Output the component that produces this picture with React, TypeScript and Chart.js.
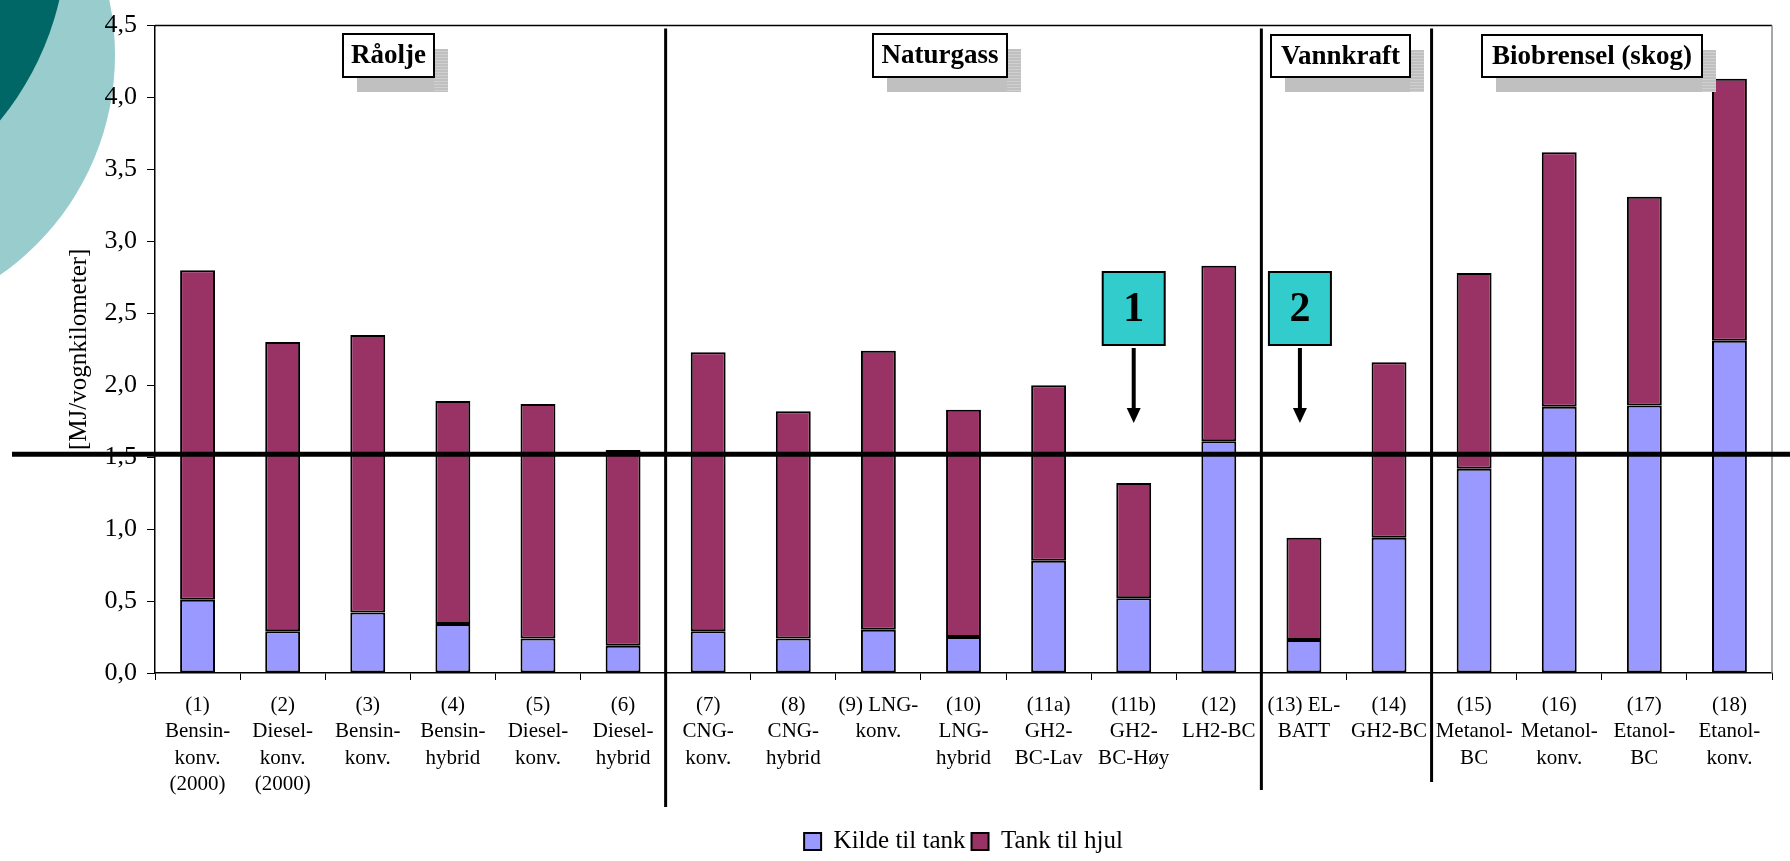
import React, { useEffect, useRef } from "react";
import { Chart, registerables } from "chart.js";

Chart.register(...registerables);

const FONT = "'Liberation Serif', 'Times New Roman', serif";

// Categories (multi-line tick labels as in the source)
const categories: string[][] = [
  ["(1)", "Bensin-", "konv.", "(2000)"],
  ["(2)", "Diesel-", "konv.", "(2000)"],
  ["(3)", "Bensin-", "konv."],
  ["(4)", "Bensin-", "hybrid"],
  ["(5)", "Diesel-", "konv."],
  ["(6)", "Diesel-", "hybrid"],
  ["(7)", "CNG-", "konv."],
  ["(8)", "CNG-", "hybrid"],
  ["(9) LNG-", "konv."],
  ["(10)", "LNG-", "hybrid"],
  ["(11a)", "GH2-", "BC-Lav"],
  ["(11b)", "GH2-", "BC-Høy"],
  ["(12)", "LH2-BC"],
  ["(13) EL-", "BATT"],
  ["(14)", "GH2-BC"],
  ["(15)", "Metanol-", "BC"],
  ["(16)", "Metanol-", "konv."],
  ["(17)", "Etanol-", "BC"],
  ["(18)", "Etanol-", "konv."],
];

// Series values [MJ/vognkilometer]
const kildeTilTank = [0.51, 0.29, 0.42, 0.34, 0.24, 0.19, 0.29, 0.24, 0.30, 0.25, 0.78, 0.52, 1.61, 0.23, 0.94, 1.42, 1.85, 1.86, 2.31];
const tankTilHjul = [2.29, 2.01, 1.93, 1.55, 1.63, 1.36, 1.94, 1.58, 1.94, 1.58, 1.22, 0.80, 1.22, 0.71, 1.22, 1.36, 1.77, 1.45, 1.82];

const seriesNames = ["Kilde til tank", "Tank til hjul"];
const yAxisTitle = "[MJ/vognkilometer]";

// Group annotations
const groupNames = ["Råolje", "Naturgass", "Vannkraft", "Biobrensel (skog)"];
const groupStartIndex = [6, 13, 15]; // separators before these categories
const markerLabels = ["1", "2"];
const markerCategory = [11, 13];
const referenceValue = 1.52;

// Layout of the annotation boxes (pixels)
const groupBoxes = [
  { x: 343, y: 34, w: 91, h: 43 },
  { x: 873, y: 34, w: 134, h: 43 },
  { x: 1271, y: 35, w: 139, h: 42 },
  { x: 1482, y: 35, w: 220, h: 42 },
];
const separatorBottoms = [807, 790, 782];
const markerDx = [0, -4];

const decorPlugin = {
  id: "decor",
  beforeDraw(chart: any) {
    const ctx = chart.ctx;
    ctx.save();
    ctx.fillStyle = "#99CCCC";
    ctx.beginPath();
    ctx.arc(-153, 55, 268, 0, Math.PI * 2);
    ctx.fill();
    ctx.fillStyle = "#006666";
    ctx.beginPath();
    ctx.arc(-229, -67, 296, 0, Math.PI * 2);
    ctx.fill();
    ctx.restore();
  },
  afterDraw(chart: any) {
    const { ctx, chartArea } = chart;
    const x = chart.scales.x;
    const y = chart.scales.y;
    ctx.save();

    // plot frame top / right
    ctx.strokeStyle = "#000";
    ctx.lineWidth = 1.5;
    ctx.beginPath();
    ctx.moveTo(chartArea.left, chartArea.top);
    ctx.lineTo(chartArea.right, chartArea.top);
    ctx.stroke();
    ctx.strokeStyle = "#8a8a8a";
    ctx.beginPath();
    ctx.moveTo(chartArea.right, chartArea.top);
    ctx.lineTo(chartArea.right, chartArea.bottom);
    ctx.stroke();

    // group separators
    ctx.strokeStyle = "#000";
    ctx.lineWidth = 3;
    groupStartIndex.forEach((k, i) => {
      const px = (x.getPixelForValue(k - 1) + x.getPixelForValue(k)) / 2;
      ctx.beginPath();
      ctx.moveTo(px, chartArea.top + 3);
      ctx.lineTo(px, separatorBottoms[i]);
      ctx.stroke();
    });

    // reference line
    const ry = y.getPixelForValue(referenceValue);
    ctx.lineWidth = 5;
    ctx.beginPath();
    ctx.moveTo(12, ry);
    ctx.lineTo(chart.width, ry);
    ctx.stroke();

    // group label boxes
    groupNames.forEach((name, i) => {
      const b = groupBoxes[i];
      ctx.fillStyle = "#C0C0C0";
      ctx.fillRect(b.x + 14, b.y + 15, b.w, b.h);
      ctx.strokeStyle = "rgba(255,255,255,0.25)";
      ctx.lineWidth = 1;
      for (let yy = b.y + 17; yy < b.y + 15 + b.h; yy += 3) {
        ctx.beginPath();
        ctx.moveTo(b.x + b.w, yy + 0.5);
        ctx.lineTo(b.x + 14 + b.w, yy + 0.5);
        ctx.stroke();
      }
      ctx.fillStyle = "#fff";
      ctx.fillRect(b.x, b.y, b.w, b.h);
      ctx.strokeStyle = "#000";
      ctx.lineWidth = 2;
      ctx.strokeRect(b.x, b.y, b.w, b.h);
      ctx.fillStyle = "#000";
      ctx.font = `bold 27px ${FONT}`;
      ctx.textAlign = "center";
      ctx.textBaseline = "middle";
      ctx.fillText(name, b.x + b.w / 2, b.y + b.h / 2 + 1);
    });

    // numbered markers with arrows
    markerLabels.forEach((lab, i) => {
      const cx = x.getPixelForValue(markerCategory[i]) + markerDx[i];
      const top = 272;
      const w = 62;
      const h = 73;
      ctx.fillStyle = "#33CCCC";
      ctx.fillRect(cx - w / 2, top, w, h);
      ctx.strokeStyle = "#000";
      ctx.lineWidth = 2;
      ctx.strokeRect(cx - w / 2, top, w, h);
      ctx.fillStyle = "#000";
      ctx.font = `bold 42px ${FONT}`;
      ctx.textAlign = "center";
      ctx.textBaseline = "middle";
      ctx.fillText(lab, cx, top + h / 2 + 2);
      // arrow
      ctx.lineWidth = 4;
      ctx.beginPath();
      ctx.moveTo(cx, top + h + 3);
      ctx.lineTo(cx, 410);
      ctx.stroke();
      ctx.beginPath();
      ctx.moveTo(cx - 7, 408);
      ctx.lineTo(cx + 7, 408);
      ctx.lineTo(cx, 423);
      ctx.closePath();
      ctx.fill();
    });

    ctx.restore();
  },
};

export default function App() {
  const ref = useRef<HTMLCanvasElement | null>(null);

  useEffect(() => {
    if (!ref.current) return;
    Chart.defaults.font.family = FONT;
    const chart = new Chart(ref.current, {
      type: "bar",
      data: {
        labels: categories,
        datasets: [
          {
            label: seriesNames[0],
            data: kildeTilTank,
            backgroundColor: "#9999FF",
            borderColor: "#000",
            borderWidth: 2,
            borderSkipped: false,
            barPercentage: 0.41,
            categoryPercentage: 1,
          },
          {
            label: seriesNames[1],
            data: tankTilHjul,
            backgroundColor: "#993366",
            borderColor: "#000",
            borderWidth: 2,
            borderSkipped: false,
            barPercentage: 0.41,
            categoryPercentage: 1,
          },
        ],
      },
      options: {
        animation: false,
        responsive: false,
        devicePixelRatio: 1,
        layout: { padding: { left: 0, right: 18, top: 19, bottom: -3 } },
        plugins: {
          legend: {
            position: "bottom",
            fullSize: false,
            labels: {
              font: { family: FONT, size: 25 },
              color: "#000",
              boxWidth: 17,
              boxHeight: 17,
              padding: 6,
            },
          },
          tooltip: { enabled: false },
        },
        scales: {
          x: {
            stacked: true,
            grid: {
              display: true,
              drawOnChartArea: false,
              drawTicks: true,
              tickLength: 7,
              color: "#000",
              offset: true,
            },
            border: { display: true, color: "#000", width: 1.5 },
            ticks: {
              font: { family: FONT, size: 21, lineHeight: 1.26 },
              color: "#000",
              padding: 12,
              maxRotation: 0,
              minRotation: 0,
              autoSkip: false,
            },
            afterFit: (s: any) => {
              s.height = 150;
            },
          },
          y: {
            stacked: true,
            min: 0,
            max: 4.5,
            ticks: {
              stepSize: 0.5,
              font: { family: FONT, size: 26 },
              color: "#000",
              padding: 10,
              callback: (v: any) => Number(v).toFixed(1).replace(".", ","),
            },
            grid: { drawOnChartArea: false, tickLength: 8, color: "#000" },
            border: { color: "#000", width: 1.5 },
            title: {
              display: true,
              text: yAxisTitle,
              font: { family: FONT, size: 25 },
              color: "#000",
              padding: { top: 64, bottom: 0 },
            },
            afterFit: (s: any) => {
              s.width = 155;
            },
          },
        },
      },
      plugins: [decorPlugin],
    } as any);
    return () => chart.destroy();
  }, []);

  return (
    <div style={{ position: "fixed", left: 0, top: 0, width: 1790, height: 861, background: "#fff" }}>
      <canvas ref={ref} width={1790} height={861} />
    </div>
  );
}
